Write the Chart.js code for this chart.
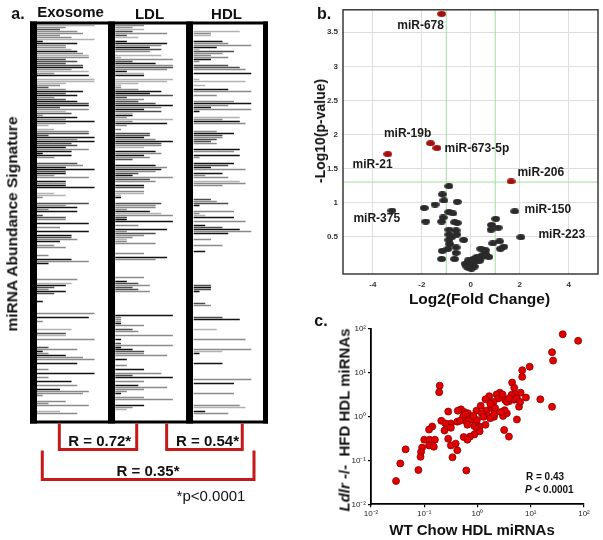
<!DOCTYPE html>
<html><head><meta charset="utf-8">
<script src="https://cdn.jsdelivr.net/npm/chart.js@4.4.1/dist/chart.umd.min.js"></script>
<style>
html,body{margin:0;padding:0;background:#fff;}
body{width:603px;height:540px;position:relative;overflow:hidden;font-family:"Liberation Sans",Arial,sans-serif;color:#111;}
canvas{position:absolute;}
.t{position:absolute;white-space:nowrap;transform:translate(-50%,-50%);line-height:1;}
.l{position:absolute;white-space:nowrap;transform:translate(0,-50%);line-height:1;}
.b{font-weight:bold;}
.r{transform:translate(-50%,-50%) rotate(-90deg);}
</style></head><body>
<canvas id="ca" width="300" height="540" style="left:0;top:0"></canvas>
<canvas id="cb" width="303" height="310" style="left:300px;top:0"></canvas>
<canvas id="cc" width="283" height="230" style="left:320px;top:310px"></canvas>

<div class="t b" style="left:18px;top:14px;font-size:16px">a.</div>
<div class="t b" style="left:70.5px;top:11px;font-size:15px">Exosome</div>
<div class="t b" style="left:149.5px;top:13px;font-size:15px">LDL</div>
<div class="t b" style="left:226.5px;top:13px;font-size:15px">HDL</div>
<div class="t b r" style="left:11.5px;top:224px;font-size:15.5px">miRNA Abundance Signature</div>
<div class="t b" style="left:99.7px;top:440px;font-size:15px">R = 0.72*</div>
<div class="t b" style="left:207.5px;top:440px;font-size:15px">R = 0.54*</div>
<div class="t b" style="left:148px;top:470px;font-size:15px">R = 0.35*</div>
<div class="t" style="left:211px;top:495px;font-size:15px">*p&lt;0.0001</div>

<div class="t b" style="left:324px;top:14px;font-size:16px">b.</div>
<div class="t b r" style="left:320px;top:131px;font-size:14px">-Log10(p-value)</div>
<div class="t b" style="left:479.5px;top:299px;font-size:15.5px">Log2(Fold Change)</div>

<div class="t b" style="left:321px;top:321px;font-size:16px">c.</div>
<div class="t b r" style="left:344px;top:420px;font-size:15px"><i>Ldlr</i> -/-&nbsp; HFD HDL miRNAs</div>
<div class="t b" style="left:472px;top:529px;font-size:15px">WT Chow HDL miRNAs</div>
<div class="l b" style="left:526px;top:477px;font-size:10px">R = 0.43</div>
<div class="l b" style="left:525px;top:490px;font-size:10px"><i>P</i> &lt; 0.0001</div>

<script>
const F = '"Liberation Sans", Arial, sans-serif';

// ---------- Panel a: miRNA abundance signature (length 0-10, shade 1=black 2=dark 3=gray 4=light) ----------
const exoLen = [10,5,4,7,8,4,6,10,1,7,5,5,6,7,8,9,9,5,7,5,8,8,6,9,3,9,0,10,10,5,4,2,5,8,5,7,3,5,7,9,9,4,9,5,6,1,7,5,10,5,2,0,3,9,9,2,10,7,10,6,7,5,9,6,
 1,6,3,0,0,7,8,5,10,5,5,3,9,0,5,5,5,10,0,0,3,5,1,0,0,9,5,7,2,7,0,1,5,5,0,9,0,4,0,9,0,6,6,7,4,0,3,5,0,0,0,2,0,6,9,2,0,0,0,0,0,0,0,7,0,6,5,3,2,
 5,3,0,0,0,1,0,0,0,0,0,10,0,9,0,1,0,0,0,6,0,5,5,0,10,0,0,0,2,7,1,2,5,8,10,0,7,0,0,2,0,10,0,2,0,6,0,7,0,4,9,8,1,0,0,5,2,9,0,0,4,7,0,0,0];
const exoShade = [4,3,2,3,3,3,3,4,1,1,3,3,4,1,3,4,3,2,2,2,2,1,3,4,3,1,0,4,4,4,3,2,3,1,2,1,3,2,1,2,1,2,3,4,2,3,1,3,1,3,4,0,4,3,2,2,1,3,1,2,2,1,3,1,
 1,1,3,0,0,2,3,1,1,2,1,3,3,0,1,3,1,1,0,0,4,4,3,0,0,2,3,1,3,1,0,2,2,3,0,1,0,3,0,1,0,1,2,3,1,0,3,3,0,0,0,3,0,1,3,1,0,0,0,0,0,0,0,3,0,4,1,2,3,
 1,2,0,0,0,1,0,0,0,0,0,3,0,1,0,3,0,0,0,4,0,2,4,0,3,0,0,0,2,3,1,3,1,3,3,0,1,0,0,3,0,1,0,3,0,1,0,3,0,1,3,3,3,0,0,3,3,3,0,0,4,3,0,0,0];
const ldlLen = [5,3,5,3,9,2,4,0,2,9,8,6,8,6,0,8,1,10,3,7,10,10,9,2,5,5,0,10,9,4,1,1,4,8,6,10,2,5,4,7,10,8,5,8,3,3,2,10,3,9,2,0,1,0,6,6,5,7,10,8,8,5,0,7,8,
 5,6,3,0,0,7,9,8,7,4,3,10,6,7,0,5,5,0,5,5,1,1,0,0,8,7,7,2,6,8,10,2,2,10,0,4,0,9,2,7,5,3,2,2,7,0,0,0,0,5,0,9,7,0,0,0,0,0,0,0,0,5,0,2,4,6,3,
 4,6,0,0,0,0,0,0,0,0,0,0,0,10,1,1,1,1,5,0,3,4,0,10,0,1,0,1,10,1,3,5,5,9,0,2,0,0,2,0,5,0,8,3,10,0,5,0,4,9,5,2,1,0,5,10,0,0,5,3,2,0,0,0,0,0];
const ldlShade = [3,3,4,2,3,2,4,0,1,1,3,1,2,3,0,4,4,3,2,1,3,2,3,1,4,1,0,4,4,4,4,3,3,1,1,2,2,3,2,2,1,3,1,2,4,1,3,4,3,1,3,0,3,0,2,2,1,3,1,2,3,4,0,1,3,
 1,3,2,0,0,1,3,1,3,2,1,3,2,3,0,1,2,0,3,4,4,1,0,0,2,3,3,3,1,4,3,2,1,1,0,3,0,1,3,2,3,3,4,3,3,0,0,0,0,3,0,1,3,0,0,0,0,0,0,0,0,3,0,1,2,3,2,
 2,3,0,0,0,0,0,0,0,0,0,0,0,1,3,3,3,1,3,0,2,3,0,3,0,1,0,2,3,1,1,2,3,3,0,1,0,0,3,0,1,0,3,2,1,0,3,0,1,3,3,3,1,0,3,3,0,0,1,3,4,0,0,0,0,0];
const hdlLen = [0,0,0,8,3,3,0,0,5,6,10,4,1,7,5,3,6,3,1,0,6,8,9,0,10,0,0,1,9,0,2,0,6,10,0,4,0,0,7,10,6,3,10,1,0,0,8,5,8,9,0,0,0,4,7,5,5,4,3,4,0,0,8,7,
 0,8,1,0,0,7,6,3,9,0,5,2,6,0,8,9,5,0,0,0,0,0,0,3,4,6,1,0,0,7,1,2,7,0,9,0,2,5,8,10,6,0,0,3,0,0,5,0,0,2,0,0,0,0,0,0,0,0,0,0,0,0,0,0,0,0,3,3,
 3,1,0,0,0,0,0,2,3,0,0,0,0,0,5,8,0,0,0,0,4,0,0,0,0,9,0,0,0,0,10,5,1,0,0,0,0,5,0,0,0,0,0,0,0,10,0,7,0,0,0,0,7,0,0,0,0,0,8,9,0,2,6,0,0,0];
const hdlShade = [0,0,0,4,3,4,0,0,1,3,3,1,4,2,3,3,3,1,3,0,2,2,3,0,1,0,0,4,4,0,4,0,1,3,0,3,0,0,3,1,3,1,3,1,0,0,4,3,1,3,0,0,0,3,1,2,3,2,2,3,0,0,1,3,
 0,1,3,0,0,1,2,1,3,0,1,3,3,0,4,3,3,0,0,0,0,0,0,2,3,2,1,0,0,3,3,4,1,0,3,0,1,2,1,3,1,0,0,3,0,0,3,0,0,1,0,0,0,0,0,0,0,0,0,0,0,0,0,0,0,0,2,1,
 2,1,0,0,0,0,0,2,3,0,0,0,0,0,2,1,0,0,0,0,4,0,0,0,0,3,0,0,0,0,3,4,1,0,0,0,0,1,0,0,0,0,0,0,0,3,0,1,0,0,0,0,3,0,0,0,0,0,3,4,0,1,3,0,0,0];
const columnNames = ['Exosome','LDL','HDL'];

// ---------- Panel b: volcano ----------
const grayX = [-0.89,-1.16,-1.1,-0.55,-1.46,-1.9,-0.89,-0.73,1.02,-1.13,-1.84,-1.19,-0.66,-0.55,0.85,0.83,1.12,-0.89,-0.6,-0.89,
 -0.78,-0.89,-0.57,-0.29,-0.86,-0.6,-0.93,-1.16,1.18,0.9,1.35,1.21,0.41,0.6,0.74,-0.6,-0.66,-1.19,0.49,0.25,
 0.11,-0.1,-0.23,-0.05,0.09,0.3,0.21,-0.08,0.03,-0.16,0.15,0.35,0.42,0.62,-3.22,1.8,2.05];
const grayY = [1.24,1.12,1.03,1.01,0.97,0.92,0.86,0.84,0.76,0.78,0.72,0.72,0.71,0.70,0.67,0.60,0.63,0.60,0.59,0.53,
 0.49,0.45,0.53,0.45,0.39,0.34,0.32,0.29,0.43,0.40,0.35,0.32,0.32,0.30,0.20,0.26,0.17,0.17,0.23,0.20,
 0.17,0.15,0.10,0.09,0.10,0.17,0.14,0.04,0.03,0.06,0.06,0.14,0.19,0.24,0.88,0.87,0.49];
const redX = [-1.19,-1.64,-1.38,-3.39,1.65];
const redY = [3.77,1.87,1.80,1.71,1.31];
const volcanoLabels = ['miR-678','miR-19b','miR-673-5p','miR-21','miR-206','miR-375','miR-150','miR-223'];
const labelX = [-2.05,-2.58,0.25,-4.01,2.86,-3.84,3.15,3.72];
const labelY = [3.59,2.01,1.79,1.56,1.44,0.76,0.89,0.52];
const xTicksB = [-4,-2,0,2,4];
const yTicksB = [0.5,1,1.5,2,2.5,3,3.5];

// ---------- Panel c: log10 values ----------
const chowLog = [1.60,1.89,1.40,1.42,0.98,0.84,0.84,0.65,0.69,-0.71,-0.72,0.81,0.71,0.64,0.42,0.36,0.22,0.15,0.39,0.52,
 0.60,0.69,0.74,0.91,1.18,1.40,0.78,0.55,0.30,0.06,0.25,0.33,0.16,-0.02,0.08,0.20,0.31,0.24,0.48,0.55,
 0.51,0.74,-0.31,-0.25,-0.18,-0.13,-0.22,-0.11,-0.01,-0.19,-0.06,0.04,-0.01,0.15,0.04,-0.06,-0.14,-0.26,-0.19,0.50,
 0.59,-0.55,-0.38,-0.50,-0.50,-0.62,-0.68,-0.85,-0.91,-1.00,-0.90,-0.80,-0.55,-0.50,-0.41,-0.38,-0.47,-1.04,-1.06,-1.07,
 -1.11,-1.35,-1.45,-1.53,-0.21,-0.91,-0.82,-0.27,-0.23,0.24,0.44,0.80,0.47,0.59,0.31,0.11,-0.60,-0.33,-0.08,-0.37];
const hfdLog = [1.87,1.72,1.46,1.27,1.13,1.05,0.90,0.77,0.65,0.70,0.55,0.54,0.51,0.49,0.54,0.50,0.46,0.39,0.41,0.37,
 0.35,0.38,0.41,0.43,0.39,0.22,0.22,0.33,0.33,0.24,0.19,0.19,0.13,0.13,0.07,0.01,-0.01,-0.04,0.01,0.07,
 0.14,-0.07,0.16,0.10,0.07,-0.02,-0.10,-0.07,-0.08,-0.19,-0.22,-0.23,-0.28,-0.19,-0.34,-0.41,-0.46,-0.47,-0.53,-0.31,
 -0.46,0.11,-0.12,-0.16,-0.26,-0.32,-0.10,-0.23,-0.30,-0.53,-0.53,-0.53,-0.51,-0.66,-0.62,-0.77,-0.93,-0.71,-0.81,-0.92,
 -1.22,-0.75,-1.07,-1.47,-1.23,-0.66,-0.69,-0.01,0.05,0.29,0.10,0.33,0.50,0.41,0.05,-0.01,-0.16,-0.10,0.01,0.13];
const decades = [-2,-1,0,1,2];
const decadeLabels = ['10\u207B\u00B2','10\u207B\u00B9','10\u2070','10\u00B9','10\u00B2'];

// ================= Panel a chart =================
const SHADES = ['#ffffff','#121212','#4e4e4e','#8a8a8a','#b2b2b2'];
const UNIT = 0.074;
const colStart = [0.09, 1.097, 2.105];
const rowIds = exoLen.map((_, i) => i + 1);
function mkCol(len, shade, k) {
  return {
    label: columnNames[k],
    data: len.map(v => v > 0 ? [colStart[k], colStart[k] + v * UNIT] : null),
    backgroundColor: shade.map(s => SHADES[s]),
    borderWidth: 0, grouped: false, barPercentage: 1, categoryPercentage: 0.65
  };
}
const frameA = {
  id: 'frameA',
  afterDatasetsDraw(chart) {
    const {ctx, chartArea: a, scales: {x}} = chart;
    ctx.save();
    ctx.fillStyle = '#000';
    const L = x.getPixelForValue(0), R = x.getPixelForValue(3.06);
    ctx.fillRect(L, a.top - 3, R - L, 3);
    ctx.fillRect(L, a.bottom, R - L, 3);
    [[0,0.09],[1.003,1.093],[2.006,2.096],[2.996,3.06]].forEach(([u, v]) => {
      const p = x.getPixelForValue(u), q = x.getPixelForValue(v);
      ctx.fillRect(p, a.top - 3, q - p, a.bottom - a.top + 6);
    });
    ctx.strokeStyle = '#c41a1a'; ctx.lineWidth = 3;
    [[0.377,1.372,3,29],[1.757,2.729,3,29],[0.158,2.880,30,59]].forEach(([u, v, t, b]) => {
      const p = x.getPixelForValue(u), q = x.getPixelForValue(v);
      ctx.beginPath(); ctx.moveTo(p, a.bottom + t); ctx.lineTo(p, a.bottom + b);
      ctx.lineTo(q, a.bottom + b); ctx.lineTo(q, a.bottom + t); ctx.stroke();
    });
    ctx.restore();
  }
};
new Chart(document.getElementById('ca'), {
  type: 'bar',
  data: { labels: rowIds, datasets: [mkCol(exoLen, exoShade, 0), mkCol(ldlLen, ldlShade, 1), mkCol(hdlLen, hdlShade, 2)] },
  options: {
    indexAxis: 'y', animation: false, responsive: false, events: [],
    layout: { padding: { left: 30, right: 32, top: 24.5, bottom: 119.5 } },
    plugins: { legend: { display: false }, tooltip: { enabled: false } },
    scales: { x: { type: 'linear', min: 0, max: 3.06, display: false }, y: { display: false } }
  },
  plugins: [frameA]
});

// ================= Panel b chart =================
function ell(color) {
  const c = document.createElement('canvas'); c.width = 9; c.height = 6;
  const g = c.getContext('2d'); g.fillStyle = color;
  g.beginPath(); g.ellipse(4.5, 3, 4.4, 2.9, 0, 0, Math.PI * 2); g.fill();
  return c;
}
const decoB = {
  id: 'decoB',
  beforeDatasetsDraw(chart) {
    const {ctx, chartArea: a, scales: {x, y}} = chart;
    ctx.save();
    ctx.strokeStyle = '#a3dba3'; ctx.lineWidth = 1;
    [-1, 1].forEach(v => { const p = x.getPixelForValue(v); ctx.beginPath(); ctx.moveTo(p, a.top); ctx.lineTo(p, a.bottom); ctx.stroke(); });
    const h = y.getPixelForValue(1.3);
    ctx.beginPath(); ctx.moveTo(a.left, h); ctx.lineTo(a.right, h); ctx.stroke();
    ctx.strokeStyle = '#3a3a3a'; ctx.lineWidth = 1.5;
    ctx.strokeRect(a.left, a.top, a.right - a.left, a.bottom - a.top);
    ctx.restore();
  },
  afterDatasetsDraw(chart) {
    const {ctx, scales: {x, y}} = chart;
    ctx.save();
    ctx.font = 'bold 12px ' + F; ctx.fillStyle = '#1a1a1a';
    ctx.textAlign = 'center'; ctx.textBaseline = 'middle';
    volcanoLabels.forEach((t, i) => ctx.fillText(t, x.getPixelForValue(labelX[i]), y.getPixelForValue(labelY[i])));
    ctx.restore();
  }
};
const tickFontB = { size: 8, weight: 'bold', family: F };
new Chart(document.getElementById('cb'), {
  type: 'scatter',
  data: { datasets: [
    { data: grayX.map((v, i) => ({ x: v, y: grayY[i] })), pointStyle: ell('#2a2a2a'), pointRadius: 4 },
    { data: redX.map((v, i) => ({ x: v, y: redY[i] })), pointStyle: ell('#a3110f'), pointRadius: 4 }
  ] },
  options: {
    animation: false, responsive: false, events: [],
    layout: { padding: { top: 7, right: 5, left: 0, bottom: 0 } },
    plugins: { legend: { display: false }, tooltip: { enabled: false } },
    scales: {
      x: { type: 'linear', min: -5.22, max: 5.2,
        afterBuildTicks: s => { s.ticks = xTicksB.map(v => ({ value: v })); },
        afterFit: s => { s.height = 36; },
        grid: { color: '#dedede', lineWidth: 1, drawTicks: false }, border: { display: false },
        ticks: { font: tickFontB, color: '#333', padding: 6, maxRotation: 0, callback: v => String(v) } },
      y: { type: 'linear', min: -0.05, max: 3.83,
        afterBuildTicks: s => { s.ticks = yTicksB.map(v => ({ value: v })); },
        afterFit: s => { s.width = 43; },
        grid: { color: '#dedede', lineWidth: 1, drawTicks: false }, border: { display: false },
        ticks: { font: tickFontB, color: '#333', padding: 5, callback: v => String(v) } }
    }
  },
  plugins: [decoB]
});

// ================= Panel c chart =================
const tickFontC = { size: 8, family: F };
new Chart(document.getElementById('cc'), {
  type: 'scatter',
  data: { datasets: [{ data: chowLog.map((v, i) => ({ x: v, y: hfdLog[i] })),
    pointRadius: 3.5, backgroundColor: '#e30000', borderColor: '#8a0000', borderWidth: 0.8 }] },
  options: {
    animation: false, responsive: false, events: [],
    layout: { padding: { top: 18.5, right: 19, left: 0, bottom: 0 } },
    plugins: { legend: { display: false }, tooltip: { enabled: false } },
    scales: {
      x: { type: 'linear', min: -2, max: 2,
        afterBuildTicks: s => { s.ticks = decades.map(v => ({ value: v })); },
        afterFit: s => { s.height = 35.7; },
        grid: { drawOnChartArea: false, drawTicks: true, tickLength: 3, color: '#000', lineWidth: 1.2 },
        border: { color: '#000', width: 1.8 },
        ticks: { font: tickFontC, color: '#222', padding: 2, maxRotation: 0, callback: (v, i) => decadeLabels[i] } },
      y: { type: 'linear', min: -2, max: 2,
        afterBuildTicks: s => { s.ticks = decades.map(v => ({ value: v })); },
        afterFit: s => { s.width = 51; },
        grid: { drawOnChartArea: false, drawTicks: true, tickLength: 3, color: '#000', lineWidth: 1.2 },
        border: { color: '#000', width: 1.8 },
        ticks: { font: tickFontC, color: '#222', padding: 2, callback: (v, i) => decadeLabels[i] } }
    }
  }
});
</script>
</body></html>
